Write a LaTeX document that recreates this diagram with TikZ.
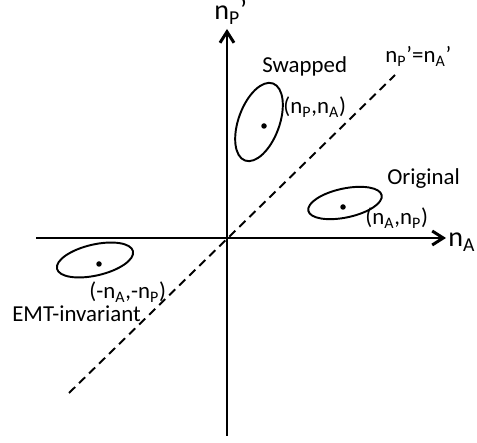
\documentclass[tikz,border=0pt]{standalone}
\usepackage{fontspec}
\setmainfont{Carlito}
\usetikzlibrary{positioning,arrows.meta,shapes.geometric}
\definecolor{InkBlack}{RGB}{0,0,0}
\tikzset{
  axis/.style={-{Straight Barb[length=2.2mm,width=2.8mm]},line width=1.7pt,draw=InkBlack},
  diag/.style={line width=1.1pt,draw=InkBlack,dash pattern=on 1.7mm off 1.1mm},
  blob/.style={ellipse,draw=InkBlack,line width=1.1pt,inner sep=0pt,outer sep=0pt},
  dotnode/.style={circle,fill=InkBlack,inner sep=0pt,minimum size=1.1mm},
  lbl/.style={anchor=base west,inner sep=0pt,font=\fontsize{13}{15}\selectfont},
  axlbl/.style={anchor=base west,inner sep=0pt,font=\fontsize{16}{19}\selectfont}
}
\begin{document}
\begin{tikzpicture}[x=0.02cm,y=0.02cm]
  \useasboundingbox (0,0) rectangle (477,443);
  \coordinate (xleft) at (36,205);
  \coordinate (xright) at (446,205);
  \coordinate (ybot) at (227,7);
  \coordinate (ytop) at (227,414);
  \coordinate (dlow) at (69,50);
  \coordinate (dhigh) at (395,368);
  \draw[diag] (dlow) -- (dhigh);
  \draw[axis] (xleft) -- (xright);
  \draw[axis] (ybot) -- (ytop);
  \node[axlbl] (ylab) at (214,423) {n\textsubscript{P}’};
  \node[axlbl] (xlab) at (448,196) {n\textsubscript{A}’};
  \node[lbl] (dlab) at (385,380) {n\textsubscript{P}’=n\textsubscript{A}’};
  \node[blob,minimum width=0.82cm,minimum height=1.64cm,rotate=-20] (swe) at (259,321) {};
  \node[dotnode] (swd) at (264,317) {};
  \node[lbl] (swname) at (262,370) {Swapped};
  \node[lbl] (swpt) at (283,329) {(n\textsubscript{P},n\textsubscript{A})};
  \node[blob,minimum width=1.5cm,minimum height=0.58cm,rotate=12] (ore) at (345,240) {};
  \node[dotnode] (ord) at (343,236) {};
  \node[lbl] (orname) at (387,258) {Original};
  \node[lbl] (orpt) at (365,218) {(n\textsubscript{A},n\textsubscript{P})};
  \node[blob,minimum width=1.56cm,minimum height=0.62cm,rotate=13] (eme) at (95,183) {};
  \node[dotnode] (emd) at (99,179) {};
  \node[lbl] (empt) at (89,144) {(-n\textsubscript{A},-n\textsubscript{P})};
  \node[lbl] (emname) at (12,121) {EMT-invariant};
\end{tikzpicture}
\end{document}
